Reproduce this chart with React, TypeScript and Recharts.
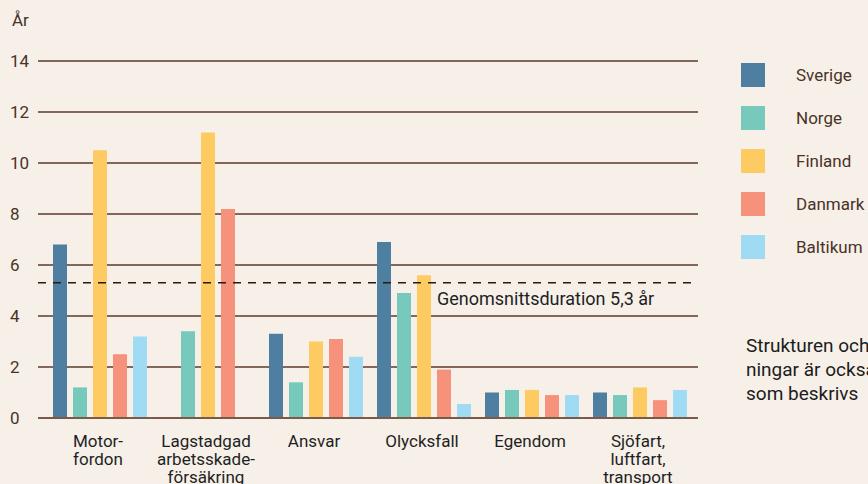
import { BarChart, Bar, XAxis, YAxis, CartesianGrid, ReferenceLine } from 'recharts'

// Duration per försäkringsklass och land (år)
const categories = ['Motor-\nfordon', 'Lagstadgad\narbetsskade-\nförsäkring', 'Ansvar', 'Olycksfall', 'Egendom', 'Sjöfart,\nluftfart,\ntransport']
const sverige = [6.8, 0, 3.3, 6.9, 1.0, 1.0]
const norge = [1.2, 3.4, 1.4, 4.9, 1.1, 0.9]
const finland = [10.5, 11.2, 3.0, 5.6, 1.1, 1.2]
const danmark = [2.5, 8.2, 3.1, 1.9, 0.9, 0.7]
const baltikum = [3.2, 0, 2.4, 0.55, 0.9, 1.1]
const yTicks = [0, 2, 4, 6, 8, 10, 12, 14]
const snitt = 5.3

const series = [
  { key: 'sverige', name: 'Sverige', color: '#4e7fa0' },
  { key: 'norge', name: 'Norge', color: '#77c9bb' },
  { key: 'finland', name: 'Finland', color: '#fecb62' },
  { key: 'danmark', name: 'Danmark', color: '#f6927b' },
  { key: 'baltikum', name: 'Baltikum', color: '#9fdcf4' },
]

const data = categories.map((c, i) => ({
  name: c,
  sverige: sverige[i],
  norge: norge[i],
  finland: finland[i],
  danmark: danmark[i],
  baltikum: baltikum[i],
}))

const FONT = 'Roboto, sans-serif'
const BG = '#f6f0e9'

function XTick({ x, y, payload }: any) {
  const lines = String(payload.value).split('\n')
  return (
    <text x={x - 2} y={y + 21} textAnchor="middle" fontSize={17} fill="#1f1f1f" fontFamily={FONT}>
      {lines.map((l, i) => (
        <tspan key={i} x={x - 2} dy={i === 0 ? 0 : 18}>{l}</tspan>
      ))}
    </text>
  )
}

function YTick({ y, payload }: any) {
  return (
    <text x={10} y={y} dy={6} textAnchor="start" fontSize={17} fill="#4a3326" fontFamily={FONT}>
      {payload.value}
    </text>
  )
}

export default function App() {
  return (
    <div style={{ position: 'absolute', left: 0, top: 0, width: 868, height: 484, overflow: 'hidden', background: BG, fontFamily: FONT }}>
      <div style={{ position: 'absolute', left: 12, top: 10, fontSize: 17, color: '#4a3326' }}>År</div>
      <BarChart
        width={868}
        height={484}
        data={data}
        margin={{ top: 61, right: 170, left: 0, bottom: 36 }}
        barSize={14}
        barGap={6}
      >
        <CartesianGrid vertical={false} stroke="#5b3a2a" strokeWidth={1.5} />
        <XAxis
          dataKey="name"
          height={30}
          interval={0}
          padding={{ left: 8, right: 4 }}
          tickLine={false}
          axisLine={{ stroke: '#7a5a48', strokeWidth: 2 }}
          tick={<XTick />}
        />
        <YAxis
          width={38}
          domain={[0, 14]}
          ticks={yTicks}
          axisLine={false}
          tickLine={false}
          tick={<YTick />}
        />
        {series.map(s => (
          <Bar key={s.key} dataKey={s.key} name={s.name} fill={s.color} isAnimationActive={false} />
        ))}
        <ReferenceLine
          y={snitt}
          stroke="#2a1a12"
          strokeWidth={1.5}
          strokeDasharray="8 7"
          label={{ value: 'Genomsnittsduration 5,3 år', position: 'insideBottomLeft', dx: 394, dy: 27, fontSize: 18, fill: '#1f1f1f', fontFamily: FONT }}
        />
      </BarChart>

      {/* Förklaring */}
      <div style={{ position: 'absolute', left: 741, top: 63 }}>
        {series.map(s => (
          <div key={s.key} style={{ display: 'flex', alignItems: 'center', height: 24, marginBottom: 19 }}>
            <span style={{ width: 24, height: 24, background: s.color, display: 'inline-block' }}></span>
            <span style={{ marginLeft: 31, fontSize: 17, color: '#4a3326', whiteSpace: 'nowrap' }}>{s.name}</span>
          </div>
        ))}
      </div>

      <div style={{ position: 'absolute', left: 746, top: 334, fontSize: 19, lineHeight: '24px', color: '#1c1c1c', whiteSpace: 'nowrap' }}>
        <div>Strukturen och</div>
        <div>ningar är också</div>
        <div>som beskrivs</div>
      </div>
    </div>
  )
}
